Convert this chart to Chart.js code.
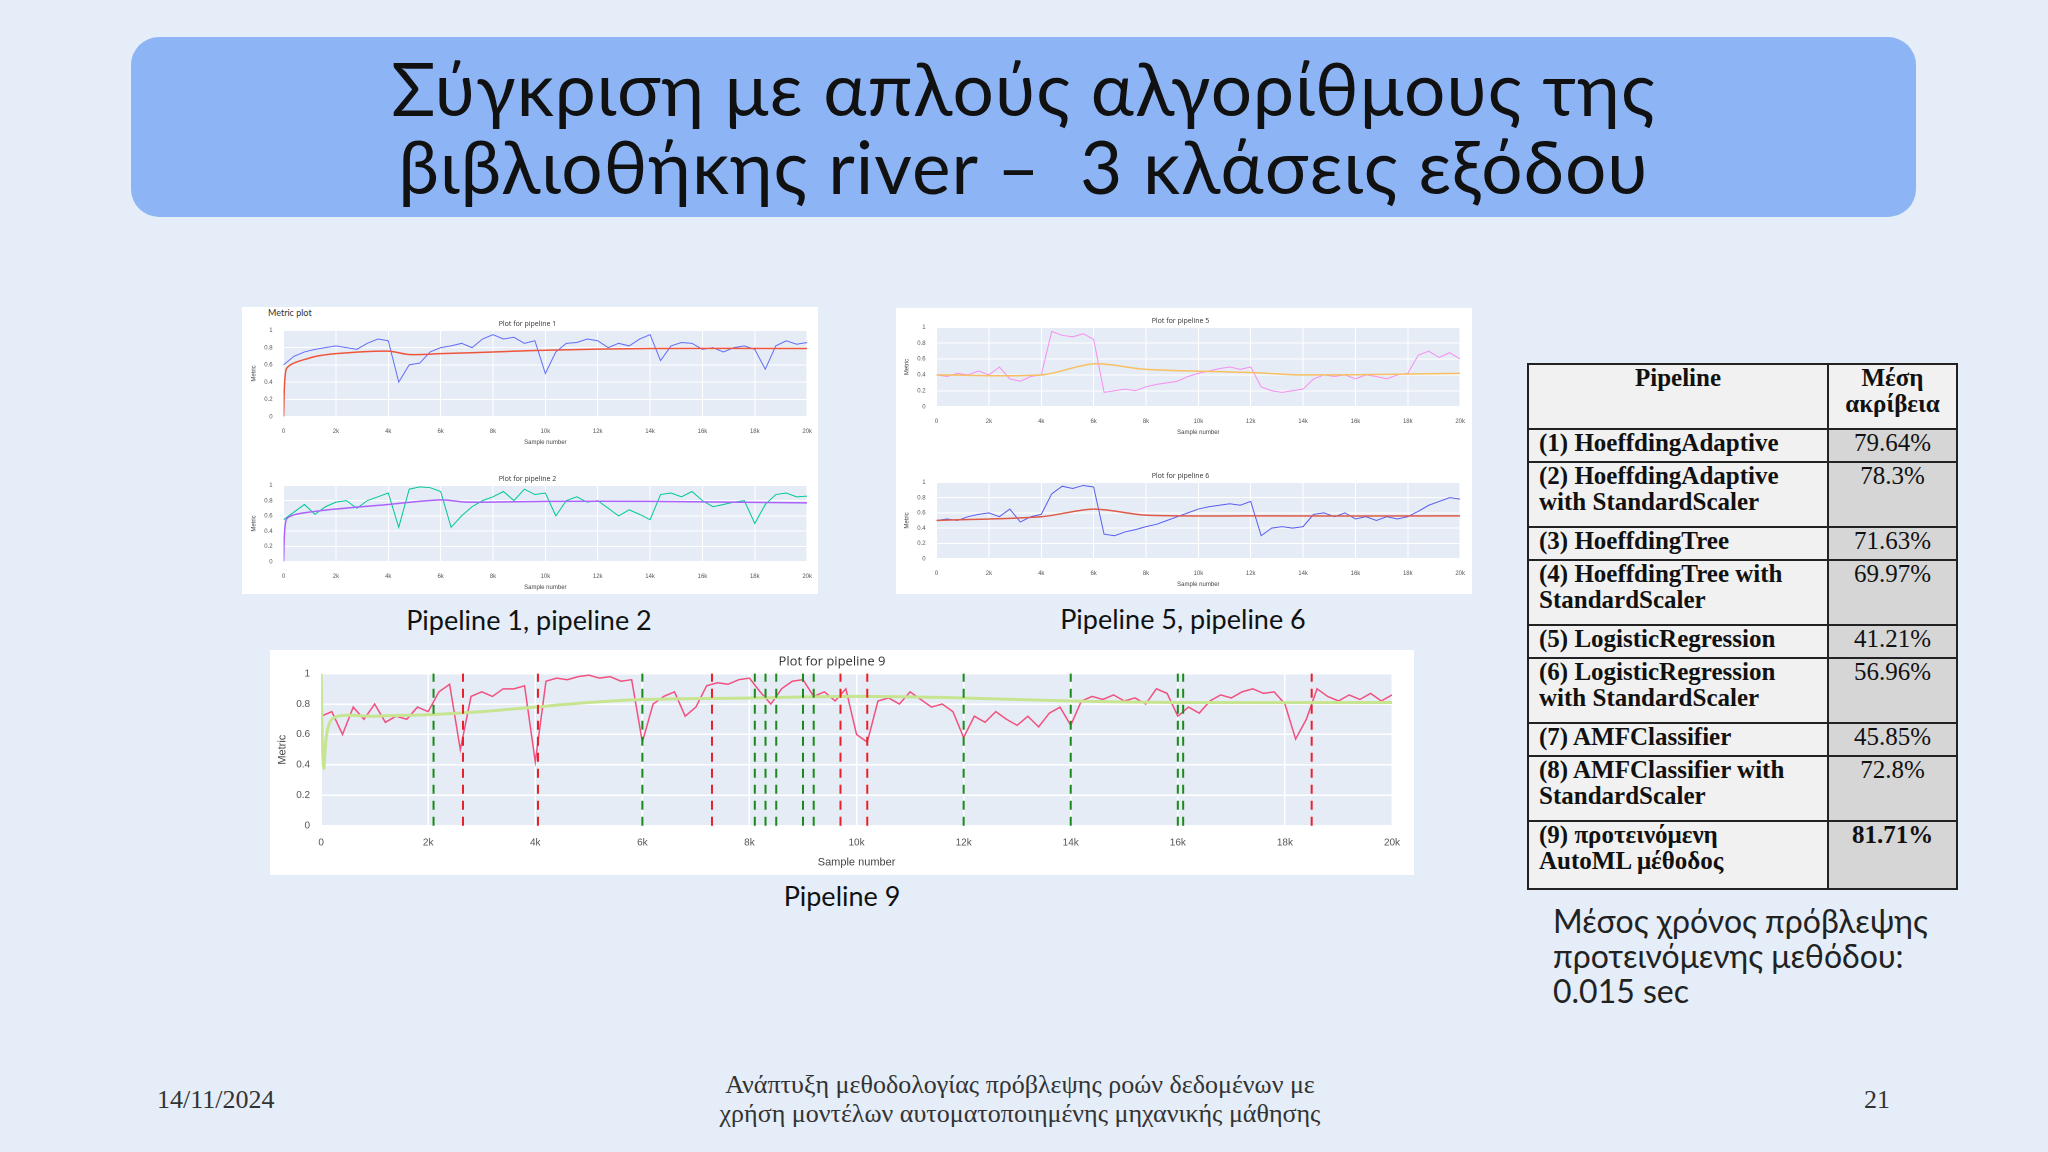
<!DOCTYPE html>
<html><head><meta charset="utf-8">
<script src="https://cdn.jsdelivr.net/npm/chart.js@4/dist/chart.umd.min.js"></script>
<style>
body{margin:0;width:2048px;height:1152px;background:#e4edf8;position:relative;overflow:hidden;font-family:Lato,"Open Sans",sans-serif}
.abs{position:absolute}
#title{left:131px;top:37px;width:1785px;height:180px;background:#8db5f6;border-radius:28px;text-align:center;font-size:73px;letter-spacing:1px;line-height:78px;color:#111;display:flex;align-items:center;justify-content:center}
.panel{background:#fff}
.cap{font-size:27px;color:#111;text-align:center}
table{border-collapse:collapse;font-family:"Liberation Serif","DejaVu Serif",serif;font-weight:bold;font-size:25px;color:#111}
td{border:2px solid #222;vertical-align:top;padding:0 10px;line-height:26px}
td.l{background:#f1f1f1}
td.r{background:#d6d6d6;text-align:center;font-weight:normal}
.foot{font-family:"Liberation Serif",serif;font-size:26px;color:#333}
</style></head><body>
<div id="title" class="abs">Σύγκριση με απλούς αλγορίθμους της<br>βιβλιοθήκης river –&nbsp; 3 κλάσεις εξόδου</div>

<div class="abs panel" style="left:242px;top:307px;width:576px;height:287px"></div>
<div class="abs" style="left:268px;top:307px;font-size:9px;color:#333">Metric plot</div>
<canvas id="c1" class="abs" style="left:246px;top:318px;width:569px;height:132px"></canvas>
<canvas id="c2" class="abs" style="left:246px;top:473px;width:569px;height:122px"></canvas>
<div class="abs panel" style="left:896px;top:308px;width:576px;height:286px"></div>
<canvas id="c5" class="abs" style="left:899px;top:315px;width:569px;height:125px"></canvas>
<canvas id="c6" class="abs" style="left:899px;top:470px;width:569px;height:122px"></canvas>
<div class="abs panel" style="left:270px;top:650px;width:1144px;height:225px"></div>
<canvas id="c9" class="abs" style="left:272px;top:652px;width:1140px;height:221px"></canvas>

<div class="abs cap" style="left:329px;top:603px;width:400px">Pipeline 1, pipeline 2</div>
<div class="abs cap" style="left:983px;top:602px;width:400px">Pipeline 5, pipeline 6</div>
<div class="abs cap" style="left:742px;top:879px;width:200px">Pipeline 9</div>

<table class="abs" style="left:1527px;top:363px;width:431px">
<tr style="height:65px"><td class="l" style="text-align:center;width:278px">Pipeline</td><td class="l" style="text-align:center;font-weight:bold">Μέση ακρίβεια</td></tr>
<tr style="height:33px"><td class="l">(1) HoeffdingAdaptive</td><td class="r">79.64%</td></tr>
<tr style="height:65px"><td class="l">(2) HoeffdingAdaptive with StandardScaler</td><td class="r">78.3%</td></tr>
<tr style="height:33px"><td class="l">(3) HoeffdingTree</td><td class="r">71.63%</td></tr>
<tr style="height:65px"><td class="l">(4) HoeffdingTree with StandardScaler</td><td class="r">69.97%</td></tr>
<tr style="height:33px"><td class="l">(5) LogisticRegression</td><td class="r">41.21%</td></tr>
<tr style="height:65px"><td class="l">(6) LogisticRegression with StandardScaler</td><td class="r">56.96%</td></tr>
<tr style="height:33px"><td class="l">(7) AMFClassifier</td><td class="r">45.85%</td></tr>
<tr style="height:65px"><td class="l">(8) AMFClassifier with StandardScaler</td><td class="r">72.8%</td></tr>
<tr style="height:68px"><td class="l">(9) προτεινόμενη<br>AutoML μέθοδος</td><td class="r" style="font-weight:bold">81.71%</td></tr>
</table>
<div class="abs" style="left:1553px;top:903px;font-size:32px;line-height:35px;color:#222">Μέσος χρόνος πρόβλεψης<br>προτεινόμενης μεθόδου:<br>0.015 sec</div>

<div class="abs foot" style="left:157px;top:1085px">14/11/2024</div>
<div class="abs foot" style="left:570px;top:1070px;width:900px;text-align:center;line-height:29px">Ανάπτυξη μεθοδολογίας πρόβλεψης ροών δεδομένων με<br>χρήση μοντέλων αυτοματοποιημένης μηχανικής μάθησης</div>
<div class="abs foot" style="left:1864px;top:1085px">21</div>

<script>
// ---- data ----
const p9 = [0.72,0.75,0.6,0.78,0.7,0.8,0.68,0.72,0.7,0.78,0.75,0.88,0.93,0.5,0.85,0.88,0.85,0.9,0.9,0.92,0.42,0.95,0.97,0.96,0.98,0.99,0.97,0.98,0.95,0.96,0.55,0.8,0.85,0.88,0.72,0.78,0.92,0.94,0.93,0.96,0.97,0.88,0.8,0.9,0.95,0.96,0.85,0.88,0.82,0.9,0.6,0.55,0.82,0.84,0.8,0.88,0.83,0.78,0.8,0.75,0.58,0.72,0.68,0.75,0.7,0.66,0.72,0.65,0.74,0.78,0.66,0.82,0.85,0.83,0.86,0.82,0.84,0.8,0.9,0.87,0.72,0.78,0.74,0.82,0.86,0.84,0.88,0.9,0.87,0.88,0.8,0.57,0.7,0.9,0.85,0.82,0.86,0.83,0.87,0.82,0.86];
const p9TrendX = [0,50,200,1000,2000,3000,4000,5000,6000,8000,10000,12000,14000,16000,20000];
const p9TrendY = [1,0.38,0.7,0.72,0.73,0.75,0.78,0.81,0.83,0.84,0.85,0.84,0.82,0.81,0.81];
const greenDrifts = [2100,6000,8100,8300,8500,9000,9200,12000,14000,16000,16100];
const redDrifts = [2650,4050,7300,9700,10200,18500];

const p1 = [0.6,0.7,0.75,0.78,0.8,0.82,0.8,0.78,0.85,0.9,0.88,0.4,0.6,0.62,0.75,0.8,0.82,0.85,0.8,0.9,0.95,0.9,0.92,0.85,0.88,0.5,0.75,0.85,0.86,0.9,0.88,0.8,0.85,0.82,0.9,0.95,0.65,0.82,0.86,0.85,0.78,0.8,0.75,0.8,0.82,0.78,0.55,0.82,0.88,0.84,0.86];
const p1TrendX = [0,100,1000,2000,4000,4800,6000,8000,10000,14000,20000];
const p1TrendY = [0,0.55,0.68,0.73,0.76,0.72,0.73,0.75,0.77,0.79,0.79];
const p2 = [0.55,0.65,0.75,0.62,0.72,0.78,0.8,0.7,0.8,0.85,0.9,0.45,0.95,0.98,0.97,0.92,0.45,0.6,0.72,0.8,0.85,0.92,0.8,0.95,0.88,0.9,0.6,0.8,0.85,0.78,0.8,0.7,0.6,0.68,0.62,0.55,0.88,0.9,0.85,0.92,0.8,0.72,0.75,0.78,0.8,0.5,0.75,0.88,0.9,0.85,0.86];
const p2TrendX = [0,100,1000,4000,6000,7000,10000,14000,20000];
const p2TrendY = [0,0.55,0.65,0.75,0.81,0.78,0.79,0.79,0.77];
const p5 = [0.4,0.38,0.42,0.4,0.45,0.4,0.5,0.35,0.32,0.38,0.4,0.95,0.9,0.88,0.92,0.85,0.18,0.2,0.22,0.2,0.25,0.28,0.3,0.32,0.38,0.42,0.45,0.48,0.5,0.47,0.5,0.25,0.2,0.18,0.2,0.22,0.35,0.4,0.38,0.4,0.35,0.4,0.38,0.35,0.4,0.42,0.65,0.7,0.62,0.68,0.6];
const p5TrendX = [0,4000,6000,8000,12000,14000,20000];
const p5TrendY = [0.4,0.4,0.54,0.47,0.43,0.4,0.42];
const p6 = [0.5,0.52,0.5,0.55,0.58,0.6,0.55,0.65,0.48,0.55,0.58,0.85,0.95,0.92,0.96,0.94,0.32,0.3,0.35,0.38,0.42,0.45,0.5,0.55,0.6,0.65,0.68,0.7,0.72,0.7,0.75,0.3,0.4,0.42,0.4,0.42,0.58,0.6,0.55,0.6,0.52,0.55,0.5,0.55,0.52,0.55,0.62,0.7,0.75,0.8,0.78];
const p6TrendX = [0,4000,6000,8000,12000,20000];
const p6TrendY = [0.5,0.55,0.65,0.57,0.56,0.56];
const xTicks = [0,2000,4000,6000,8000,10000,12000,14000,16000,18000,20000];
const yTicks = [0,0.2,0.4,0.6,0.8,1];

// ---- helpers ----
const pts = (arr) => arr.map((v,i)=>({x:i*20000/(arr.length-1),y:v}));
const xy = (xs,ys) => xs.map((x,i)=>({x,y:ys[i]}));
const bgPlugin = {id:'bg',beforeDraw(c){const a=c.chartArea;c.ctx.save();c.ctx.fillStyle='#e5ecf6';c.ctx.fillRect(a.left,a.top,a.width,a.height);c.ctx.restore();}};
const driftPlugin = {id:'drift',afterDatasetsDraw(c,args,o){if(!o.green)return;const ctx=c.ctx,xs=c.scales.x,ys=c.scales.y;ctx.save();ctx.lineWidth=2;ctx.setLineDash([9,7]);
 const draw=(arr,col)=>{ctx.strokeStyle=col;arr.forEach(v=>{const px=xs.getPixelForValue(v);ctx.beginPath();ctx.moveTo(px,ys.getPixelForValue(0));ctx.lineTo(px,ys.getPixelForValue(1));ctx.stroke();});};
 draw(o.green,'#1a8a1a');draw(o.red,'#e8202a');ctx.restore();}};

function make(id,title,series,col,trend,tcol,big,drifts){
 const fs = big?10:6;
 const cv=document.getElementById(id);
 new Chart(cv,{type:'line',
  data:{datasets:[
   {data:trend,borderColor:tcol,borderWidth:big?3:1.5,pointRadius:0,tension:0.3},
   {data:series,borderColor:col,borderWidth:big?1.5:1,pointRadius:0,tension:0}
  ]},
  options:{responsive:false,animation:false,devicePixelRatio:2,
   layout:{padding:{top:0,right:big?20:6,left:0,bottom:0}},
   plugins:{legend:{display:false},tooltip:{enabled:false},
    title:{display:true,text:title,color:'#333',font:{size:big?13:7,family:'Open Sans',weight:'normal'},padding:{top:2,bottom:big?4:2}},
    drift:drifts||{}},
   scales:{
    x:{type:'linear',min:0,max:20000,afterBuildTicks:a=>{a.ticks=xTicks.map(v=>({value:v}));},
     ticks:{color:'#555',font:{size:fs},maxRotation:0,callback:v=>v===0?'0':(v/1000)+'k'},
     grid:{color:'#fff',lineWidth:big?1.5:1},border:{display:false},
     title:{display:true,text:'Sample number',color:'#444',font:{size:big?11:6},padding:{top:big?4:1}}},
    y:{min:0,max:1,afterBuildTicks:a=>{a.ticks=yTicks.map(v=>({value:v}));},
     ticks:{color:'#555',font:{size:fs},callback:v=>v===0?'0':v===1?'1':v},
     grid:{color:'#fff',lineWidth:big?1.5:1},border:{display:false},
     title:{display:true,text:'Metric',color:'#444',font:{size:big?11:6}}}
   }},
  plugins:[bgPlugin,driftPlugin]});
}
make('c1','Plot for pipeline 1',pts(p1),'#636efa',xy(p1TrendX,p1TrendY),'#ef553b',false);
make('c2','Plot for pipeline 2',pts(p2),'#00c896',xy(p2TrendX,p2TrendY),'#ab63fa',false);
make('c5','Plot for pipeline 5',pts(p5),'#f78ef0',xy(p5TrendX,p5TrendY),'#f8c060',false);
make('c6','Plot for pipeline 6',pts(p6),'#5a5ef0',xy(p6TrendX,p6TrendY),'#e05a48',false);
make('c9','Plot for pipeline 9',pts(p9),'#f2517f',xy(p9TrendX,p9TrendY),'#c7e590',true,{green:greenDrifts,red:redDrifts});
</script>
</body></html>
